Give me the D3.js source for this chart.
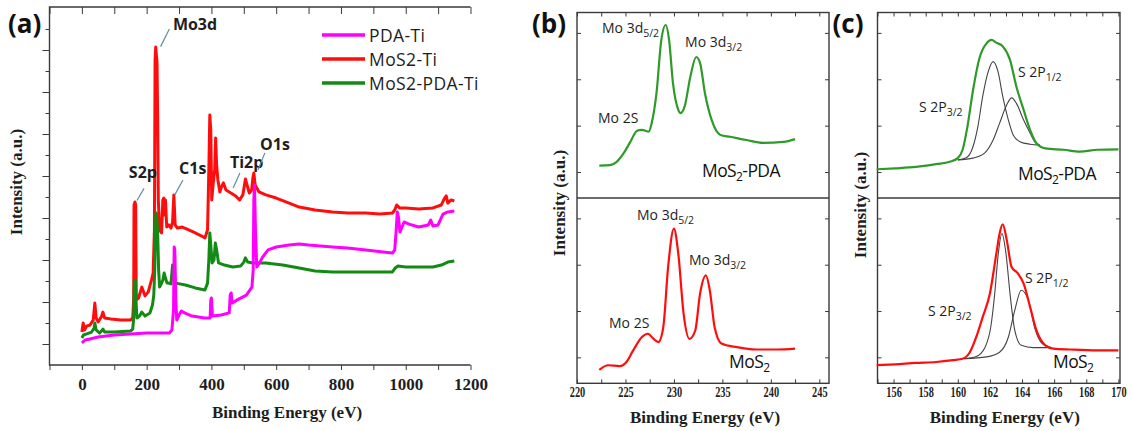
<!DOCTYPE html>
<html><head><meta charset="utf-8">
<script src="https://cdn.jsdelivr.net/npm/d3@7"></script>
<style>body{margin:0;background:#fff}svg{display:block}</style>
</head><body>
<svg id="chart" width="1134" height="431"></svg>
<script>
// ---------------- DATA ----------------
// Panel (a) survey spectra: [binding energy eV, intensity a.u.]
const surveyMoS2Ti = [[0,1.57],[4,2.0],[8,1.67],[15,1.86],[25,1.9],[35,2.14],[40,2.95],[44,2.24],[50,2.05],[60,2.29],[65,2.52],[70,2.24],[90,2.19],[120,2.14],[150,2.14],[157,2.24],[160,3.1],[161,7.62],[164,7.76],[166,7.62],[168,3.1],[175,3.19],[185,3.71],[195,3.29],[205,3.48],[215,4.05],[220,4.38],[224,6.43],[226,14.52],[228,15.14],[230,14.76],[232,14.43],[234,11.76],[236,7.86],[240,6.43],[246,6.29],[250,7.86],[253,7.95],[256,7.14],[258,7.86],[262,6.57],[268,6.67],[275,6.52],[280,6.81],[284,8.1],[288,6.67],[295,6.52],[310,6.57],[330,6.43],[350,6.29],[370,6.14],[380,6.05],[388,6.43],[392,9.29],[395,11.9],[398,11.19],[401,7.86],[405,8.57],[410,9.29],[413,10.81],[416,9.52],[420,8.81],[426,8.24],[432,8.52],[437,8.67],[445,8.33],[460,8.19],[475,8.05],[487,7.86],[497,8.1],[505,8.86],[511,8.52],[517,8.19],[524,8.33],[528,8.9],[531,9.14],[535,8.57],[547,8.24],[568,8.1],[600,7.95],[640,7.71],[671,7.52],[720,7.38],[774,7.29],[820,7.24],[877,7.24],[920,7.19],[959,7.24],[966,7.38],[972,7.62],[981,7.48],[1000,7.48],[1040,7.43],[1084,7.48],[1110,7.62],[1120,7.95],[1125,8.05],[1130,7.71],[1140,7.86],[1150,7.81]];
const surveyMoS2PDATi = [[0,1.29],[5,1.43],[15,1.48],[30,1.57],[38,1.76],[40,2.0],[44,1.67],[55,1.52],[65,1.71],[70,1.57],[100,1.57],[150,1.62],[157,1.71],[160,2.24],[162,3.95],[165,4.05],[167,3.1],[170,2.24],[178,2.33],[185,2.52],[195,2.33],[210,2.48],[218,2.86],[222,3.33],[225,4.52],[228,7.14],[230,7.24],[232,6.81],[234,6.29],[237,4.52],[240,3.71],[245,3.86],[250,4.05],[254,4.38],[258,4.14],[263,3.9],[268,3.9],[275,3.86],[280,4.76],[284,4.14],[290,3.9],[320,3.81],[350,3.67],[380,3.57],[388,3.9],[392,5.0],[395,6.29],[398,5.71],[402,4.86],[408,5.0],[412,5.81],[416,5.48],[422,4.86],[440,4.76],[466,4.67],[490,4.71],[500,4.9],[505,5.1],[512,4.9],[528,4.86],[568,4.86],[620,4.76],[671,4.62],[720,4.48],[774,4.43],[877,4.43],[959,4.43],[968,4.62],[975,4.71],[1000,4.67],[1084,4.67],[1110,4.76],[1130,4.9],[1150,4.95]];
const surveyPDATi = [[0,1.05],[10,1.19],[25,1.24],[50,1.33],[100,1.43],[150,1.48],[200,1.52],[270,1.52],[278,1.67],[283,2.62],[285,5.62],[287,5.48],[290,3.1],[293,2.14],[300,2.38],[307,2.57],[317,2.48],[340,2.33],[379,2.24],[396,2.24],[398,3.1],[400,3.19],[403,2.33],[430,2.38],[455,2.48],[458,3.33],[461,3.43],[464,2.95],[480,3.1],[508,3.33],[525,3.71],[529,4.52],[531,7.86],[533,8.57],[536,6.43],[540,4.67],[550,4.9],[558,5.14],[575,5.48],[600,5.62],[640,5.71],[671,5.76],[700,5.71],[774,5.62],[820,5.57],[877,5.48],[930,5.38],[959,5.33],[966,5.48],[970,6.29],[974,7.29],[978,7.0],[982,6.33],[987,6.52],[995,6.81],[1010,6.71],[1040,6.57],[1070,6.67],[1077,6.9],[1084,6.62],[1100,6.67],[1115,7.19],[1130,7.29],[1150,7.33]];
const surveyXTicks = [0,200,400,600,800,1000,1200];
const legendNames = ["PDA-Ti","MoS2-Ti","MoS2-PDA-Ti"];
// peak labels: [text, textX(eV), textY, leader x1, y1, x2, y2]
const surveyLabels = [["Mo3d",281,15.95,243,15.16,270,16.0],["S2p",145,8.9,170,7.83,192,8.41],["C1s",300,9.1,287,8.1,312,8.81],["Ti2p",457,9.38,467,8.43,488,9.14],["O1s",550,10.24,544,9.29,565,10.1]];

// Panel (b) Mo 3d high resolution
const moMoS2PDA = [[222.3,0.14],[223.4,0.15],[224.1,0.22],[224.8,0.40],[225.5,0.65],[226.2,0.89],[226.7,0.91],[227.4,0.87],[227.7,1.05],[228.2,1.70],[228.7,2.85],[229.15,3.17],[229.5,2.85],[229.9,1.92],[230.45,1.34],[230.7,1.27],[231.1,1.41],[231.7,2.06],[232.3,2.48],[232.7,2.35],[233.2,1.70],[233.9,1.12],[234.8,0.80],[235.8,0.76],[237.5,0.69],[239.2,0.63],[241.3,0.65],[242.5,0.71]];
const moMoS2 = [[222.3,-0.27],[223.2,-0.17],[224.4,-0.19],[225.1,-0.10],[225.8,0.15],[226.7,0.44],[227.3,0.51],[227.9,0.40],[228.4,0.33],[228.9,0.65],[229.4,1.95],[230.0,2.78],[230.45,2.24],[231.0,0.94],[231.6,0.40],[232.2,0.58],[232.7,1.38],[233.3,1.77],[233.7,1.45],[234.2,0.65],[234.9,0.30],[236.5,0.22],[238.5,0.17],[240.6,0.17],[242.5,0.19]];
const moXTicks = [220,225,230,235,240,245];
const moLabelsTop = [["Mo 3d","5/2",222.58,3.0],["Mo 3d","3/2",231.15,2.7],["Mo 2S","",222.17,1.06]];
const moLabelsBot = [["Mo 3d","5/2",226.19,2.96],["Mo 3d","3/2",231.56,1.99],["Mo 2S","",223.3,0.63]];

// Panel (c) S 2p high resolution
const sMoS2PDA = [[154.95,0.06],[156.1,0.08],[157.4,0.11],[158.65,0.17],[159.5,0.22],[160.0,0.30],[160.3,0.48],[160.6,0.98],[160.95,1.77],[161.35,2.46],[161.8,2.78],[162.1,2.85],[162.4,2.79],[162.8,2.71],[163.25,2.42],[163.65,1.84],[164.1,1.34],[164.5,0.91],[164.9,0.62],[165.45,0.51],[166.6,0.48],[167.6,0.44],[168.7,0.48],[170.0,0.49]];
const sMoS2PDAfit32 = [[160.0,0.26],[160.5,0.30],[160.95,0.55],[161.25,0.98],[161.55,1.63],[161.9,2.17],[162.2,2.38],[162.5,2.17],[162.8,1.63],[163.15,1.12],[163.45,0.80],[163.9,0.65],[164.5,0.60],[165.1,0.58]];
const sMoS2PDAfit12 = [[160.0,0.26],[160.95,0.30],[161.7,0.42],[162.2,0.69],[162.6,1.05],[163.05,1.45],[163.35,1.60],[163.65,1.48],[164.1,1.12],[164.5,0.84],[164.8,0.65],[165.1,0.58]];
const sMoS2 = [[154.95,-0.17],[156.1,-0.15],[157.4,-0.12],[158.65,-0.10],[159.7,-0.06],[160.3,-0.03],[160.75,0.11],[161.15,0.44],[161.55,0.87],[162.0,1.38],[162.4,2.24],[162.6,2.67],[162.8,2.87],[163.05,2.53],[163.35,1.95],[163.75,1.81],[164.1,1.59],[164.5,1.09],[164.9,0.58],[165.45,0.26],[165.95,0.19],[167.0,0.17],[168.7,0.15],[170.0,0.15]];
const sMoS2fit32 = [[160.4,-0.03],[161.15,0.02],[161.7,0.22],[162.05,0.65],[162.3,1.38],[162.5,2.17],[162.75,2.67],[163.0,2.24],[163.25,1.38],[163.55,0.58],[163.95,0.26],[164.7,0.21],[165.85,0.21]];
const sMoS2fit12 = [[160.4,-0.03],[161.8,0.01],[162.6,0.11],[163.15,0.44],[163.55,1.02],[163.95,1.45],[164.4,1.23],[164.8,0.62],[165.25,0.30],[165.85,0.21]];
const sXTicks = [156,158,160,162,164,166,168,170];
const sLabelsTop = [["S 2P","1/2",163.75,2.05],["S 2P","3/2",157.58,1.30]];
const sLabelsBot = [["S 2P","1/2",164.18,1.60],["S 2P","3/2",158.14,0.89]];

// ---------------- STYLE ----------------
const SERIF = "'Liberation Serif','Times New Roman',serif";
const SANS = "'Open Sans','Noto Sans',sans-serif";
const MAGENTA = "#ff00ff", RED = "#ff0d0d", GREEN = "#138a13", GREEN2 = "#2e9a2a", FRAME = "#3a3a3a", INK = "#1e1e1e";

const svg = d3.select("#chart");

// ---------------- PANEL (a) ----------------
const xA = d3.scaleLinear([-100,1200],[49.5,470.5]);
const yA = d3.scaleLinear([0,17],[365,8]);
const gA = svg.append("g");
const [aL,aR] = xA.range(), aB = yA.range()[0], aT = yA.range()[1]-1;
gA.append("path").attr("d",`M${aR},${aT}H${aL}V${aB}H${aR}`)
  .attr("fill","none").attr("stroke",FRAME).attr("stroke-width",1.4);

const axBotA = gA.append("g").attr("transform",`translate(0,${aB})`).attr("color",FRAME)
  .call(d3.axisBottom(xA).tickValues(d3.range(-100,1201,100)).tickSize(5).tickPadding(8)
    .tickFormat(d => surveyXTicks.includes(d) ? d : ""));
axBotA.select(".domain").remove();
axBotA.selectAll("text").attr("font-family",SERIF).attr("font-weight","bold").attr("font-size",17).attr("fill",INK);

const axTopA = gA.append("g").attr("transform",`translate(0,${aT})`).attr("color",FRAME)
  .call(d3.axisBottom(xA).tickValues(d3.range(-100,1201,100)).tickSize(7).tickFormat(""));
axTopA.select(".domain").remove();

const axLeftA = gA.append("g").attr("transform",`translate(${aL},0)`).attr("color",FRAME)
  .call(d3.axisLeft(yA).tickValues(d3.range(1,17)).tickSize(7).tickFormat(""));
axLeftA.select(".domain").remove();
axLeftA.selectAll(".tick line").attr("x2", d => d % 2 === 1 ? -7 : -4);

const lineA = d3.line().x(d => xA(d[0])).y(d => yA(d[1]));
[[surveyMoS2Ti,RED],[surveyMoS2PDATi,GREEN],[surveyPDATi,MAGENTA]].forEach(([data,c]) => {
  gA.append("path").datum(data).attr("d",lineA).attr("fill","none").attr("stroke",c)
    .attr("stroke-width",3).attr("stroke-linejoin","round");
});

// peak labels
surveyLabels.forEach(([t,tx,ty,x1,y1,x2,y2]) => {
  gA.append("line").attr("x1",xA(x1)).attr("y1",yA(y1)).attr("x2",xA(x2)).attr("y2",yA(y2))
    .attr("stroke","#5d8ea3").attr("stroke-width",1.2);
  gA.append("text").attr("x",xA(tx)).attr("y",yA(ty)).text(t)
    .attr("font-family",SANS).attr("font-weight","bold").attr("font-size",16).attr("fill",INK);
});

// legend
const legColors = [MAGENTA,RED,GREEN];
const legY = d3.scalePoint(legendNames,[35,83]);
legendNames.forEach((n,i) => {
  const y = legY(n);
  gA.append("line").attr("x1",322).attr("x2",365).attr("y1",y).attr("y2",y).attr("stroke",legColors[i]).attr("stroke-width",3.5);
  gA.append("text").attr("x",369).attr("y",y+6.5).text(n).attr("font-family",SANS).attr("font-size",17.5)
    .attr("letter-spacing",0.4).attr("fill",INK);
});

gA.append("text").attr("x",287).attr("y",418).attr("text-anchor","middle").text("Binding Energy (eV)")
  .attr("font-family",SERIF).attr("font-weight","bold").attr("font-size",17).attr("fill",INK);
gA.append("text").attr("transform","translate(22,182) rotate(-90)").attr("text-anchor","middle").text("Intensity (a.u.)")
  .attr("font-family",SERIF).attr("font-weight","bold").attr("font-size",17).attr("fill",INK);
gA.append("text").attr("x",8).attr("y",33).text("(a)").attr("font-family",SANS).attr("font-weight","bold").attr("font-size",26).attr("fill","#111");

// ---------------- helper for stacked panels ----------------
function stackedPanel(opt) {
  const g = svg.append("g");
  const x = opt.x;
  const [L,R] = x.range();
  const yT = d3.scaleLinear([-0.56,3.44],[198,12.5]);
  const yB = d3.scaleLinear([-0.56,3.44],[383.3,198]);
  g.append("rect").attr("x",L).attr("y",12.5).attr("width",R-L).attr("height",383.3-12.5)
    .attr("fill","none").attr("stroke",FRAME).attr("stroke-width",1.4);
  g.append("line").attr("x1",L).attr("x2",R).attr("y1",198).attr("y2",198).attr("stroke",FRAME).attr("stroke-width",1.4);
  const t1 = g.append("g").attr("transform","translate(0,12.5)").attr("color",FRAME)
    .call(d3.axisBottom(x).tickValues(opt.minor).tickSize(4).tickFormat(""));
  t1.select(".domain").remove();
  const t2 = g.append("g").attr("transform","translate(0,383.3)").attr("color",FRAME)
    .call(d3.axisBottom(x).tickValues(opt.minor).tickSizeInner(-4).tickSizeOuter(0).tickPadding(4)
      .tickFormat(d => opt.labels.includes(d) ? d : ""));
  t2.select(".domain").remove();
  t2.selectAll("text").attr("font-family",SERIF).attr("font-weight","bold").attr("font-size",14)
    .attr("fill",INK).attr("transform","scale(0.74,1)");
  [yT,yB].forEach(ys => {
    const a = g.append("g").attr("transform",`translate(${L},0)`).attr("color",FRAME)
      .call(d3.axisRight(ys).tickValues([0,1,2,3]).tickSize(4).tickFormat(""));
    a.select(".domain").remove();
    const b = g.append("g").attr("transform",`translate(${R},0)`).attr("color",FRAME)
      .call(d3.axisLeft(ys).tickValues([0,1,2,3]).tickSize(4).tickFormat(""));
    b.select(".domain").remove();
  });
  const lT = d3.line().curve(d3.curveMonotoneX).x(d => x(d[0])).y(d => yT(d[1]));
  const lB = d3.line().curve(d3.curveMonotoneX).x(d => x(d[0])).y(d => yB(d[1]));
  (opt.fitsTop||[]).forEach(f => g.append("path").datum(f).attr("d",lT).attr("fill","none").attr("stroke","#444").attr("stroke-width",1.1));
  (opt.fitsBot||[]).forEach(f => g.append("path").datum(f).attr("d",lB).attr("fill","none").attr("stroke","#444").attr("stroke-width",1.1));
  g.append("path").datum(opt.top).attr("d",lT).attr("fill","none").attr("stroke",GREEN2).attr("stroke-width",2.2).attr("stroke-linejoin","round");
  g.append("path").datum(opt.bot).attr("d",lB).attr("fill","none").attr("stroke",RED).attr("stroke-width",2.2).attr("stroke-linejoin","round");
  const lab = (arr, ys) => arr.forEach(([main,sub,ex,ev]) => {
    const t = g.append("text").attr("x",x(ex)).attr("y",ys(ev)).attr("font-family",SANS).attr("font-size",14).attr("fill",INK);
    t.append("tspan").text(main);
    if (sub) t.append("tspan").attr("dy",4).attr("font-size",10.5).text(sub);
  });
  lab(opt.labTop,yT); lab(opt.labBot,yB);
  const sample = (ex,ev,ys,suffix) => {
    const t = g.append("text").attr("x",x(ex)).attr("y",ys(ev)).attr("font-family",SANS).attr("font-size",17.5).attr("fill","#111").attr("letter-spacing",-0.6);
    t.append("tspan").text("MoS");
    t.append("tspan").attr("dy",4).attr("font-size",12).text("2");
    if (suffix) t.append("tspan").attr("dy",-4).text(suffix);
  };
  sample(opt.nameTop[0],opt.nameTop[1],yT,"-PDA");
  sample(opt.nameBot[0],opt.nameBot[1],yB,"");
  g.append("text").attr("x",(L+R)/2+opt.titleShift).attr("y",423).attr("text-anchor","middle").text("Binding Energy (eV)")
    .attr("font-family",SERIF).attr("font-weight","bold").attr("font-size",17).attr("fill",INK);
  g.append("text").attr("transform",`translate(${L-12},${opt.ytitleY}) rotate(-90)`).attr("text-anchor","middle").text("Intensity (a.u.)")
    .attr("font-family",SERIF).attr("font-weight","bold").attr("font-size",17).attr("fill",INK);
  g.append("text").attr("x",L-45).attr("y",33).text(opt.tag).attr("font-family",SANS).attr("font-weight","bold").attr("font-size",26).attr("fill","#111");
}

// ---------------- PANEL (b) ----------------
stackedPanel({
  x: d3.scaleLinear([220,246],[577,829]),
  minor: d3.range(220,246.01,2.5), labels: moXTicks,
  top: moMoS2PDA, bot: moMoS2,
  labTop: moLabelsTop, labBot: moLabelsBot,
  nameTop: [232.9,-0.11], nameBot: [235.69,-0.24],
  titleShift: 2, ytitleY: 203, tag: "(b)"
});

// ---------------- PANEL (c) ----------------
stackedPanel({
  x: d3.scaleLinear([155,170.1],[877.5,1120]),
  minor: d3.range(155,170.01,1), labels: sXTicks,
  top: sMoS2PDA, bot: sMoS2,
  fitsTop: [sMoS2PDAfit32, sMoS2PDAfit12], fitsBot: [sMoS2fit32, sMoS2fit12],
  labTop: sLabelsTop, labBot: sLabelsBot,
  nameTop: [163.75,-0.17], nameBot: [165.93,-0.24],
  titleShift: 6, ytitleY: 205, tag: "(c)"
});
</script>
</body></html>
